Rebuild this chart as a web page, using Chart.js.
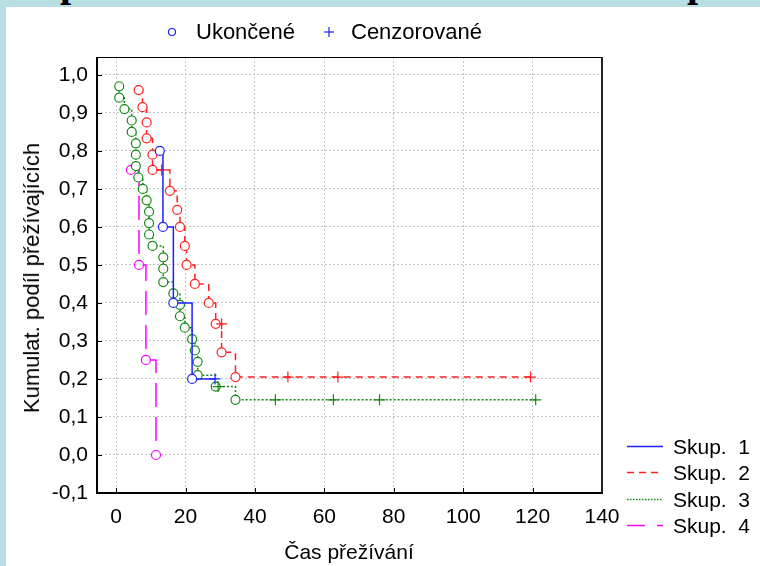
<!DOCTYPE html>
<html>
<head>
<meta charset="utf-8">
<script src="https://cdn.jsdelivr.net/npm/chart.js@4.4.1/dist/chart.umd.min.js"></script>
<style>
  html, body { margin: 0; padding: 0; }
  body {
    width: 760px; height: 566px; position: relative; overflow: hidden;
    background: #b8dfe2;
    font-family: "Liberation Sans", Arial, sans-serif; color: #000;
  }
  #panel { position: absolute; left: 6px; top: 7px; width: 754px; height: 559px; background: #fff; }
  #chart { position: absolute; left: 0; top: 0; }
  .t { position: absolute; white-space: pre; font-size: 21px; line-height: 1; transform: translateY(-50%); }
  .big { font-size: 22px; }
  .mk { position: absolute; }
  #ytitle { position: absolute; left: 32px; top: 278px; font-size: 22px; line-height: 1; white-space: pre;
            transform: translate(-50%, -50%) rotate(-90deg); }
  #xtitle { position: absolute; left: 349px; top: 551px; font-size: 21px; line-height: 1; white-space: pre;
            transform: translate(-50%, -50%); }
</style>
</head>
<body>
<div id="panel"></div>
<svg class="mk" style="left:0;top:0" width="760" height="10">
  <text x="60" y="-4" font-family="Liberation Serif" font-weight="bold" font-size="40">p</text>
  <text x="687" y="-4" font-family="Liberation Serif" font-weight="bold" font-size="40">p</text>
</svg>
<canvas id="chart" width="760" height="566"></canvas>

<!-- top legend -->
<svg class="mk" style="left:160px;top:22px" width="180" height="22">
  <circle cx="12" cy="10" r="3.5" fill="none" stroke="#2020ff" stroke-width="1.2"/>
  <line x1="164" y1="10" x2="174" y2="10" stroke="#2020ff" stroke-width="1.2"/>
  <line x1="169" y1="5" x2="169" y2="15" stroke="#2020ff" stroke-width="1.2"/>
</svg>
<div class="t big" style="left:196px;top:32px">Ukončené</div>
<div class="t big" style="left:351px;top:32px">Cenzorované</div>

<!-- right legend -->
<svg class="mk" style="left:620px;top:430px" width="50" height="110">
  <line x1="7" y1="16.5" x2="43" y2="16.5" stroke="#2020ff" stroke-width="1.5"/>
  <line x1="7" y1="42.5" x2="43" y2="42.5" stroke="#ff2020" stroke-width="1.5" stroke-dasharray="7 5"/>
  <line x1="7" y1="69.5" x2="43" y2="69.5" stroke="#118a11" stroke-width="1.5" stroke-dasharray="1.5 1.5"/>
  <line x1="7" y1="95.5" x2="43" y2="95.5" stroke="#ff00ff" stroke-width="1.5" stroke-dasharray="18 12"/>
</svg>
<div class="t" style="left:673px;top:446px">Skup.  1</div>
<div class="t" style="left:673px;top:472px">Skup.  2</div>
<div class="t" style="left:673px;top:499px">Skup.  3</div>
<div class="t" style="left:673px;top:525px">Skup.  4</div>

<div id="ytitle">Kumulat. podíl přežívajících</div>
<div id="xtitle">Čas přežívání</div>

<script>
// axis ticks
const yTicks = [-0.1, 0.0, 0.1, 0.2, 0.3, 0.4, 0.5, 0.6, 0.7, 0.8, 0.9, 1.0];
const xTicks = [0, 20, 40, 60, 80, 100, 120, 140];

// Skup. 1  (time, cumulative survival, censored flag)
const g1Time = [12.6, 13.5, 16.5, 21.9, 28.5];
const g1Surv = [0.80, 0.60, 0.40, 0.20, 0.20];
const g1Cens = [0, 0, 0, 0, 1];

// Skup. 2
const g2Time = [6.5, 7.6, 8.8, 8.8, 10.5, 10.5, 13.1, 15.5, 17.6, 18.4, 19.8, 20.3, 22.7, 26.7, 28.7, 30.4, 30.4, 34.4, 49.5, 63.9, 119.4];
const g2Surv = [0.96, 0.915, 0.875, 0.833, 0.79, 0.75, 0.75, 0.695, 0.645, 0.60, 0.55, 0.50, 0.45, 0.40, 0.345, 0.345, 0.27, 0.205, 0.205, 0.205, 0.205];
const g2Cens = [0, 0, 0, 0, 0, 0, 1, 0, 0, 0, 0, 0, 0, 0, 0, 1, 0, 0, 1, 1, 1];

// Skup. 3
const g3Time = [0.9, 0.9, 2.4, 4.5, 4.5, 5.7, 5.7, 5.7, 6.4, 7.7, 8.8, 9.5, 9.5, 9.5, 10.5, 13.6, 13.6, 13.6, 16.5, 18.4,
                18.4, 19.8, 21.9, 22.7, 23.5, 23.5, 28.7, 29.4, 34.4, 45.9, 62.6, 75.9, 120.9];
const g3Surv = [0.97, 0.94, 0.91, 0.88, 0.85, 0.82, 0.79, 0.76, 0.73, 0.70, 0.67, 0.64, 0.61, 0.58, 0.55, 0.52, 0.49, 0.455, 0.425, 0.395,
                0.365, 0.335, 0.305, 0.275, 0.245, 0.21, 0.18, 0.18, 0.145, 0.145, 0.145, 0.145, 0.145];
const g3Cens = [0, 0, 0, 0, 0, 0, 0, 0, 0, 0, 0, 0, 0, 0, 0, 0, 0, 0, 0, 0,
                0, 0, 0, 0, 0, 0, 0, 1, 0, 1, 1, 1, 1];

// Skup. 4
const g4Time = [4.3, 6.6, 8.6, 11.5];
const g4Surv = [0.75, 0.50, 0.25, 0.00];
const g4Cens = [0, 0, 0, 0];

const FONT = 'Liberation Sans, Arial, sans-serif';
Chart.defaults.font.family = FONT;

function series(time, surv, cens, color, dash) {
  return {
    data: time.map((t, i) => ({ x: t, y: surv[i] })),
    borderColor: color,
    borderWidth: 1.5,
    borderDash: dash,
    stepped: true,
    tension: 0,
    fill: false,
    pointStyle: c => cens[c.dataIndex] ? 'cross' : 'circle',
    pointRadius: c => cens[c.dataIndex] ? 5.5 : 4.5,
    pointBorderWidth: 1.2,
    pointBorderColor: color,
    pointBackgroundColor: '#fff'
  };
}

// inner tick marks + plot frame
const framePlugin = {
  id: 'frame',
  afterDraw(chart) {
    const { ctx, chartArea: a, scales: { x, y } } = chart;
    ctx.save();
    ctx.setLineDash([]);
    ctx.strokeStyle = '#000';
    ctx.lineWidth = 1;
    yTicks.forEach(v => {
      const py = Math.round(y.getPixelForValue(v)) + 0.5;
      ctx.beginPath(); ctx.moveTo(a.left, py); ctx.lineTo(a.left + 5, py); ctx.stroke();
    });
    xTicks.forEach(v => {
      const px = Math.round(x.getPixelForValue(v)) + 0.5;
      ctx.beginPath(); ctx.moveTo(px, a.bottom); ctx.lineTo(px, a.bottom - 5); ctx.stroke();
    });
    // top + right
    ctx.beginPath();
    ctx.moveTo(a.left, a.top + 0.5); ctx.lineTo(a.right, a.top + 0.5);
    ctx.stroke();
    ctx.strokeStyle = '#222';
    ctx.lineWidth = 2;
    ctx.beginPath();
    ctx.moveTo(a.right, a.top); ctx.lineTo(a.right, a.bottom);
    ctx.stroke();
    // left + bottom
    ctx.strokeStyle = '#000';
    ctx.lineWidth = 2;
    ctx.beginPath();
    ctx.moveTo(a.left, a.top); ctx.lineTo(a.left, a.bottom); ctx.lineTo(a.right + 1, a.bottom);
    ctx.stroke();
    ctx.restore();
  }
};

new Chart(document.getElementById('chart').getContext('2d'), {
  type: 'line',
  data: {
    datasets: [
      series(g1Time, g1Surv, g1Cens, '#2020ff', []),
      series(g2Time, g2Surv, g2Cens, '#ff2020', [7, 5]),
      series(g3Time, g3Surv, g3Cens, '#118a11', [2, 2]),
      series(g4Time, g4Surv, g4Cens, '#ff00ff', [24, 10])
    ]
  },
  options: {
    responsive: false,
    animation: false,
    layout: { padding: { left: 0, right: 158, top: 57, bottom: 0 } },
    plugins: { legend: { display: false }, tooltip: { enabled: false } },
    scales: {
      x: {
        type: 'linear', min: -5.5, max: 140,
        afterBuildTicks: s => { s.ticks = xTicks.map(v => ({ value: v })); },
        afterFit: s => { s.height = 73; },
        ticks: { color: '#000', font: { size: 21 }, padding: 12, autoSkip: false, maxRotation: 0,
                 callback: v => String(v) },
        grid: { color: '#c4c4c4', lineWidth: 1, drawTicks: false },
        border: { display: false, dash: [2, 2] }
      },
      y: {
        type: 'linear', min: -0.1, max: 1.047,
        afterBuildTicks: s => { s.ticks = yTicks.map(v => ({ value: v })); },
        afterFit: s => { s.width = 97; },
        ticks: { color: '#000', font: { size: 21 }, padding: 9, autoSkip: false,
                 callback: v => v.toFixed(1).replace('.', ',') },
        grid: { color: '#c4c4c4', lineWidth: 1, drawTicks: false },
        border: { display: false, dash: [2, 2] }
      }
    }
  },
  plugins: [framePlugin]
});
</script>
</body>
</html>
